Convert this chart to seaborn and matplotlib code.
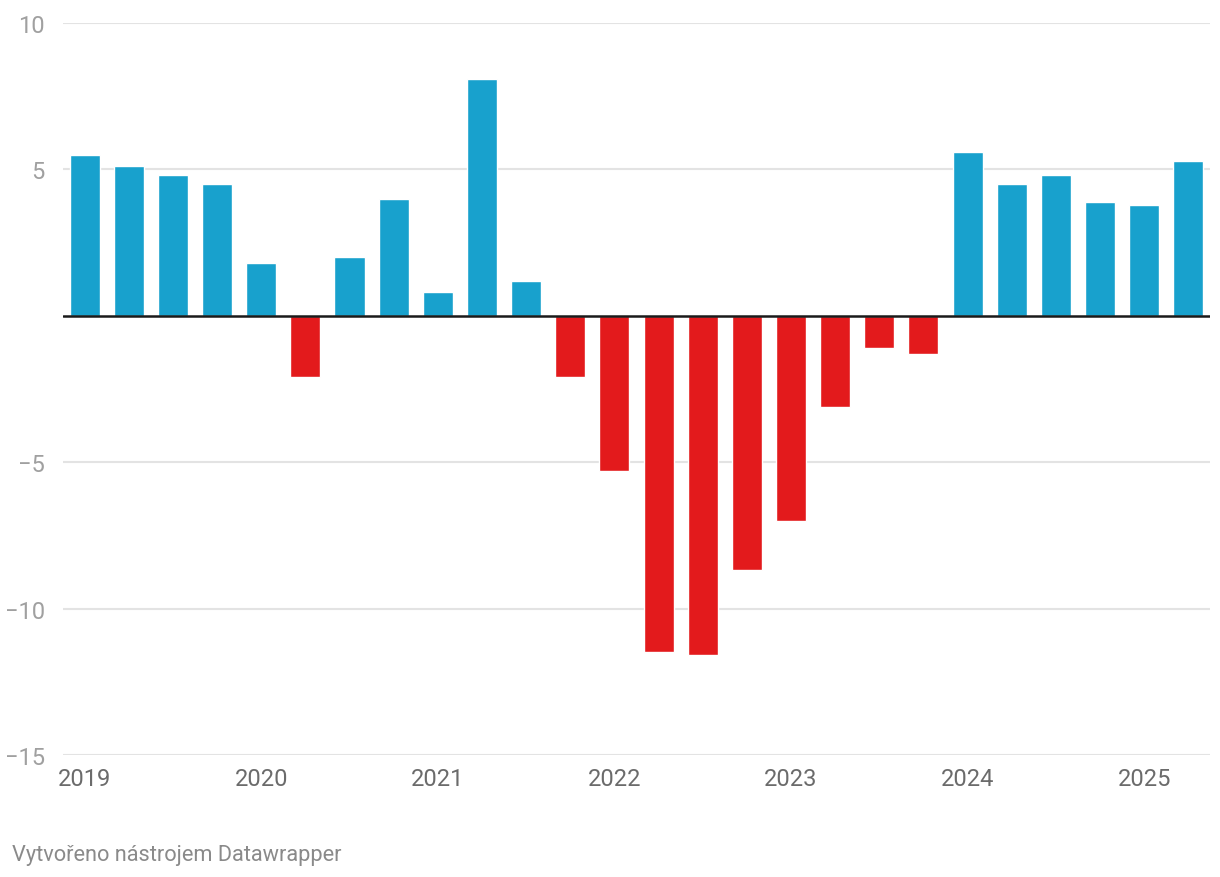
import numpy as np
import pandas as pd
import matplotlib
matplotlib.use('Agg')
import matplotlib.pyplot as plt
import seaborn as sns

# Quarterly values, 2019 Q1 .. 2025 Q2
years = ['2019', '2020', '2021', '2022', '2023', '2024', '2025']
quarters = [f'{y} Q{q}' for y in years for q in range(1, 5)][:26]
values = [5.5, 5.1, 4.8, 4.5,
          1.8, -2.1, 2.0, 4.0,
          0.8, 8.1, 1.2, -2.1,
          -5.3, -11.5, -11.6, -8.7,
          -7.0, -3.1, -1.1, -1.3,
          5.6, 4.5, 4.8, 3.9,
          3.8, 5.3]
y_ticks = [-15, -10, -5, 0, 5, 10]
y_tick_labels = ['\u221215', '\u221210', '\u22125', '', '5', '10']

df = pd.DataFrame({'quarter': quarters, 'value': values})
df['sign'] = np.where(df['value'] >= 0, 'pos', 'neg')

sns.set_theme(style='white')
plt.rcParams['font.family'] = ['Roboto', 'DejaVu Sans']

fig = plt.figure(figsize=(12.2, 8.78), dpi=100)
ax = fig.add_axes([0.0516, 0.1390, 0.9402, 0.8337])

palette = {'pos': '#18a1cd', 'neg': '#e31a1c'}
sns.barplot(data=df, x='quarter', y='value', hue='sign', palette=palette,
            dodge=False, width=0.68, legend=False, ax=ax, saturation=1)

ax.set_ylim(-15, 10)
ax.set_xlim(-0.49, 25.49)
ax.set_yticks(y_ticks)
ax.set_yticklabels(y_tick_labels)
for t in y_ticks:
    if t != 0:
        ax.axhline(t, color='#e3e3e3', lw=1.5, zorder=0)
ax.axhline(0, color='#1a1a1a', lw=1.8, zorder=3)

ax.set_xticks(range(0, len(quarters), 4))
ax.set_xticklabels(years)
ax.tick_params(axis='x', length=0, pad=9, labelsize=17, labelcolor='#6b6b6b')
ax.tick_params(axis='y', length=0, pad=13, labelsize=17, labelcolor='#a0a0a0')
ax.set_xlabel('')
ax.set_ylabel('')
for s in ax.spines.values():
    s.set_visible(False)

fig.text(0.0098, 0.026, 'Vytvořeno nástrojem Datawrapper', fontsize=15.7,
         color='#8a8a8a', va='center', ha='left')

fig.savefig('out.png', dpi=100)
